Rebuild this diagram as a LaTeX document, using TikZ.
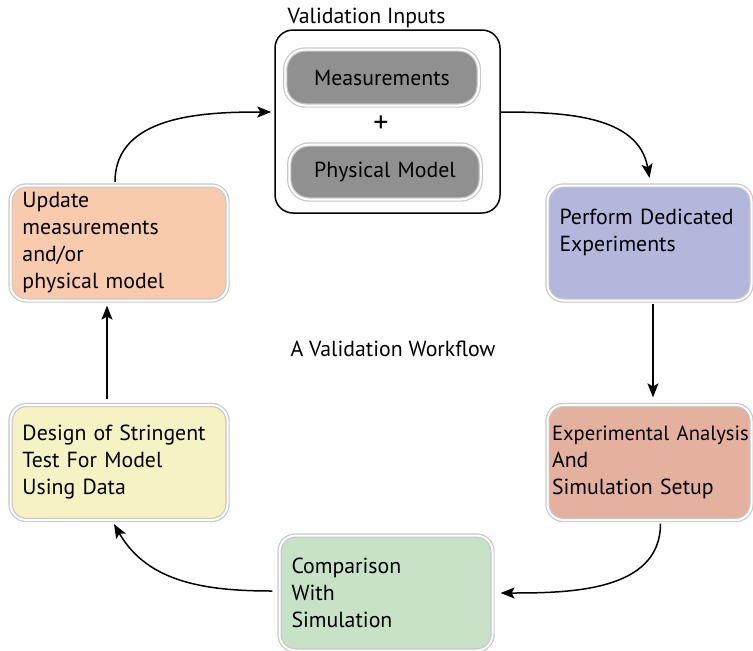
\documentclass[tikz,border=0pt]{standalone}
\usepackage{fontspec}
\setmainfont{PT Sans}
\usetikzlibrary{arrows.meta}

\definecolor{peach}{HTML}{F8CBAD}
\definecolor{lavender}{HTML}{B4B6DC}
\definecolor{salmon}{HTML}{E3B19E}
\definecolor{mint}{HTML}{C8E2C7}
\definecolor{lemon}{HTML}{F5F3C4}
\definecolor{midgray}{HTML}{909090}

\begin{document}
\begin{tikzpicture}[x=1pt, y=-1pt, >={Stealth[length=14pt,width=11pt,inset=3pt]},
	every node/.style={font=\fontsize{21.8}{27}\selectfont},
	card/.style={draw=black!22, double=white, double distance=2pt, line width=1.2pt,
		rounded corners=16pt, minimum height=115pt, text width=193pt, inner xsep=12pt, align=left},
	pill/.style={card, fill=midgray, rounded corners=20pt, minimum height=56pt, align=center},
	flow/.style={->, line width=1.5pt}]
	\useasboundingbox (0,0) rectangle (753,651);
	% inputs
	\node[draw, line width=1.5pt, rounded corners=18pt, minimum width=225pt, minimum height=183pt] (vin) at (387.5,121.5) {};
	\node[anchor=base west] (ttl) at (284,23) {Validation Inputs};
	\node[pill, text width=169.5pt] (meas) at (382,77.5) {Measurements};
	\node[font=\fontsize{30}{30}\selectfont] (plus) at (381,124) {+};
	\node[pill, text width=167.5pt, minimum height=55pt] (phys) at (385,172) {Physical Model};
	% cycle
	\node[card, fill=peach] (upd) at (119,243) {Update\\measurements\\and/or\\physical model};
	\node[card, fill=lavender, text width=180pt, text depth=52pt] (perf) at (649.5,243) {Perform Dedicated\\Experiments};
	\node[card, fill=salmon, inner xsep=4.5pt, text width=195pt] (exp) at (649.5,462.5) {\mbox{\fontsize{20.6}{27}\selectfont Experimental Analysis}\\And\\Simulation Setup};
	\node[card, fill=mint, text width=189pt] (cmp) at (386,593) {Comparison\\With\\Simulation};
	\node[card, fill=lemon] (des) at (119,462.5) {Design of Stringent\\Test For Model\\Using Data};
	\node (wf) at (393,349) {A Validation Workflow};
	% arrows
	\draw[flow] ([xshift=-4pt,yshift=3pt]upd.north) to[out=90,in=180] ([xshift=-3pt,yshift=9.5pt]vin.west);
	\draw[flow] ([yshift=9.5pt]vin.east) to[out=0,in=100] ([yshift=7pt]perf.north);
	\draw[flow] ([xshift=3.5pt,yshift=-3pt]perf.south) -- ([xshift=3.5pt,yshift=7pt]exp.north);
	\draw[flow] ([xshift=11pt,yshift=-3pt]exp.south) to[out=-90,in=0] ([xshift=7.5pt]cmp.east);
	\draw[flow] ([xshift=-6.5pt,yshift=2pt]cmp.west) to[out=180,in=-60] ([xshift=-5pt,yshift=-3.5pt]des.south);
	\draw[flow] ([xshift=-12pt,yshift=5.5pt]des.north) -- ([xshift=-12pt,yshift=-4.5pt]upd.south);
\end{tikzpicture}
\end{document}
